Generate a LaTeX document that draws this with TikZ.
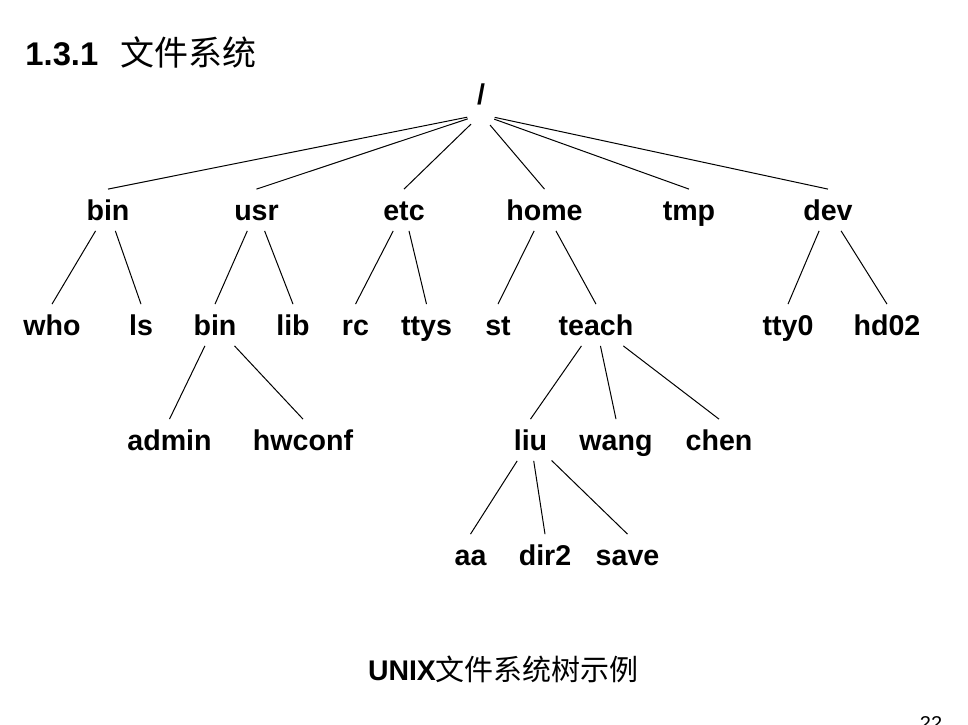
\documentclass[tikz,border=0pt]{standalone}
\usepackage{fontspec}
\setmainfont{Liberation Sans}
\newfontfamily\cjk{Noto Sans CJK SC}
\usepackage{tikz}

\begin{document}
\begin{tikzpicture}[x=0.5pt,y=-0.5pt,
 lbl/.style={font=\bfseries\fontsize{14.3}{16}\selectfont,inner xsep=2pt,inner ysep=5pt,text height=10.5pt,text depth=0pt},
 ln/.style={line width=0.5pt},
 rt/.style={ln,shorten <=7pt}]
\useasboundingbox (0,0) rectangle (968,724);
\node[anchor=base west,inner sep=0pt,font=\bfseries\fontsize{16.4}{18}\selectfont] (title) at (25,65)
 {1.3.1\hspace{11pt}{\cjk\mdseries\fontsize{17}{18}\selectfont 文件系统}};
% root and first level
\node[lbl] (root) at (481,93.5) {/};
\node[lbl] (bin)  at (108,210)   {bin};
\node[lbl] (usr)  at (256.5,210) {usr};
\node[lbl] (etc)  at (404,210)   {etc};
\node[lbl] (home) at (544.5,210) {home};
\node[lbl] (tmp)  at (689,210)   {tmp};
\node[lbl] (dev)  at (828,210)   {dev};
% second level
\node[lbl] (who)   at (52,325)    {who};
\node[lbl] (ls)    at (141,325)   {ls};
\node[lbl] (ubin)  at (215,325)   {bin};
\node[lbl] (lib)   at (293,325)   {lib};
\node[lbl] (rc)    at (355.5,325) {rc};
\node[lbl] (ttys)  at (426.5,325) {ttys};
\node[lbl] (st)    at (498,325)   {st};
\node[lbl] (teach) at (596,325)   {teach};
\node[lbl] (tty0)  at (788,325)   {tty0};
\node[lbl] (hd02)  at (887,325)   {hd02};
% third level
\node[lbl] (admin)  at (169.5,440) {admin};
\node[lbl] (hwconf) at (303,440)   {hwconf};
\node[lbl] (liu)    at (530.5,440) {liu};
\node[lbl] (wang)   at (616,440)   {wang};
\node[lbl] (chen)   at (719,440)   {chen};
% fourth level
\node[lbl] (aa)   at (470.5,555) {aa};
\node[lbl] (dir2) at (545,555)   {dir2};
\node[lbl] (save) at (627.5,555) {save};
\node[anchor=base,inner sep=0pt,font=\bfseries\fontsize{14.2}{16}\selectfont] (cap) at (503.5,680)
 {UNIX{\cjk\mdseries\fontsize{14.5}{16}\selectfont 文件系统树示例}};
\node[anchor=north,inner sep=0pt,font=\fontsize{10}{12}\selectfont] (page) at (931,716) {22};
% connectors
\draw[rt] (root.south) -- (bin.north); \draw[rt] (root.south) -- (usr.north); \draw[rt] (root.south) -- (etc.north);
\draw[rt] (root.south) -- (home.north); \draw[rt] (root.south) -- (tmp.north); \draw[rt] (root.south) -- (dev.north);
\draw[ln] (bin) -- (who.north); \draw[ln] (bin) -- (ls.north);
\draw[ln] (usr) -- (ubin.north); \draw[ln] (usr) -- (lib.north);
\draw[ln] (etc) -- (rc.north); \draw[ln] (etc) -- (ttys.north);
\draw[ln] (home) -- (st.north); \draw[ln] (home) -- (teach.north);
\draw[ln] (dev) -- (tty0.north); \draw[ln] (dev) -- (hd02.north);
\draw[ln] (ubin) -- (admin.north); \draw[ln] (ubin) -- (hwconf.north);
\draw[ln] (teach) -- (liu.north); \draw[ln] (teach) -- (wang.north); \draw[ln] (teach) -- (chen.north);
\draw[ln] (liu) -- (aa.north); \draw[ln] (liu) -- (dir2.north); \draw[ln] (liu) -- (save.north);
\end{tikzpicture}
\end{document}
